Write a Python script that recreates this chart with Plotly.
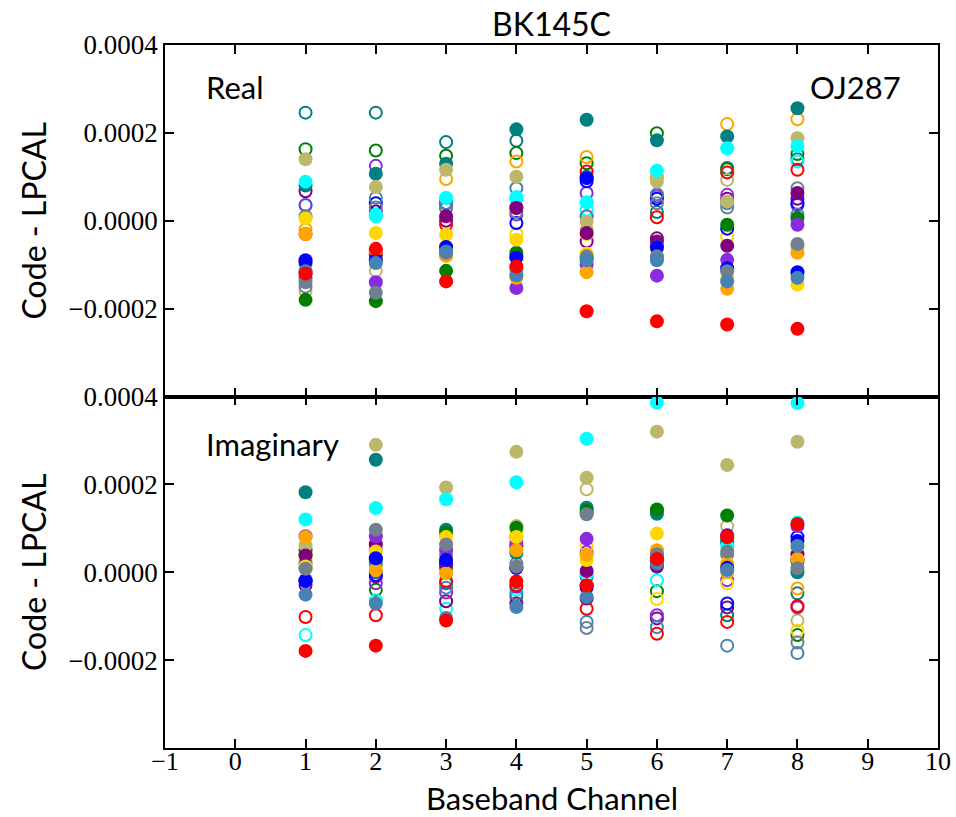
import plotly.graph_objects as go

# Baseband channels
channels = [1, 2, 3, 4, 5, 6, 7, 8]

# Station colours (one filled and one open series per colour)
colors = ["teal", "green", "darkkhaki", "cyan", "purple", "blueviolet",
          "gold", "orange", "blue", "slategray", "steelblue", "red"]

# Real part, filled markers (Code - LPCAL), per channel 1..8
real_filled = {
    "teal":       [0.000080, 0.000107, 0.000130, 0.000208, 0.000230, 0.000183, 0.000192, 0.000256],
    "green":      [-0.000180, -0.000183, -0.000114, -0.000073, -0.000085, -0.000062, -0.000009, 0.000006],
    "darkkhaki":  [0.000140, 0.000077, 0.000116, 0.000100, -0.000002, 0.000089, 0.000044, 0.000188],
    "cyan":       [0.000089, 0.000014, 0.000052, 0.000054, 0.000042, 0.000114, 0.000165, 0.000170],
    "purple":     [-0.000120, -0.000076, 0.000010, 0.000029, -0.000028, -0.000047, -0.000057, 0.000063],
    "blueviolet": [-0.000130, -0.000140, -0.000077, -0.000153, -0.000100, -0.000125, -0.000089, -0.000009],
    "gold":       [0.000005, -0.000028, -0.000032, -0.000043, -0.000075, -0.000060, -0.000130, -0.000145],
    "orange":     [-0.000030, -0.000068, -0.000080, -0.000130, -0.000117, -0.000085, -0.000155, -0.000073],
    "blue":       [-0.000090, -0.000090, -0.000060, -0.000084, 0.000097, -0.000060, -0.000108, -0.000117],
    "slategray":  [-0.000140, -0.000164, -0.000073, -0.000110, -0.000081, -0.000081, -0.000115, -0.000053],
    "steelblue":  [-0.000115, -0.000096, -0.000070, -0.000124, -0.000090, -0.000090, -0.000138, -0.000130],
    "red":        [-0.000120, -0.000064, -0.000138, -0.000104, -0.000206, -0.000229, -0.000236, -0.000246],
}

# Real part, open markers
real_open = {
    "teal":       [0.000246, 0.000246, 0.000179, 0.000182, 0.000100, 0.000020, 0.000120, 0.000140],
    "green":      [0.000163, 0.000160, 0.000148, 0.000154, 0.000131, 0.000199, 0.000117, 0.000152],
    "darkkhaki":  [-0.000160, -0.000114, -0.000070, 0.000050, -0.000020, 0.000060, 0.000093, -0.000060],
    "cyan":       [0.000035, 0.000010, 0.000052, 0.000050, 0.000025, 0.000100, 0.000110, 0.000135],
    "purple":     [0.000067, 0.000021, 0.000000, 0.000030, -0.000047, -0.000040, 0.000050, 0.000050],
    "blueviolet": [0.000036, 0.000125, 0.000029, 0.000014, 0.000063, 0.000055, 0.000059, 0.000036],
    "gold":       [-0.000100, -0.000070, -0.000058, -0.000030, -0.000030, -0.000050, -0.000036, -0.000125],
    "orange":     [-0.000020, -0.000080, 0.000095, 0.000135, 0.000145, 0.000100, 0.000220, 0.000231],
    "blue":       [-0.000095, 0.000040, 0.000040, -0.000005, 0.000090, 0.000050, -0.000018, 0.000040],
    "slategray":  [-0.000150, 0.000030, 0.000030, 0.000020, 0.000010, 0.000040, 0.000030, 0.000074],
    "steelblue":  [0.000010, 0.000052, 0.000040, 0.000074, 0.000010, 0.000060, 0.000040, 0.000014],
    "red":        [-0.000030, -0.000070, -0.000009, -0.000080, 0.000112, 0.000008, 0.000110, 0.000116],
}

# Imaginary part, filled markers
imag_filled = {
    "teal":       [0.000182, 0.000256, 0.000097, 0.000044, 0.000147, 0.000133, 0.000069, 0.000000],
    "green":      [0.000050, 0.000030, 0.000090, 0.000101, 0.000140, 0.000143, 0.000129, 0.000025],
    "darkkhaki":  [0.000061, 0.000290, 0.000193, 0.000274, 0.000215, 0.000320, 0.000244, 0.000297],
    "cyan":       [0.000120, 0.000146, 0.000166, 0.000205, 0.000304, 0.000386, 0.000060, 0.000385],
    "purple":     [0.000038, 0.000064, 0.000017, 0.000060, 0.000003, 0.000013, 0.000084, 0.000041],
    "blueviolet": [0.000082, 0.000082, 0.000051, 0.000067, 0.000076, 0.000025, 0.000080, 0.000105],
    "gold":       [0.000013, 0.000047, 0.000080, 0.000080, 0.000028, 0.000088, 0.000020, 0.000060],
    "orange":     [0.000080, 0.000005, -0.000002, 0.000050, 0.000040, 0.000050, 0.000017, 0.000030],
    "blue":       [-0.000018, 0.000032, 0.000028, 0.000010, -0.000035, 0.000030, 0.000010, 0.000071],
    "slategray":  [0.000008, 0.000097, 0.000063, 0.000013, 0.000132, 0.000041, 0.000047, 0.000009],
    "steelblue":  [-0.000051, -0.000071, -0.000104, -0.000079, -0.000056, 0.000020, 0.000005, 0.000060],
    "red":        [-0.000179, -0.000167, -0.000110, -0.000021, -0.000030, 0.000030, 0.000080, 0.000110],
}

# Imaginary part, open markers
imag_open = {
    "teal":       [-0.000020, 0.000000, -0.000025, -0.000056, -0.000010, 0.000140, -0.000098, -0.000048],
    "green":      [0.000040, -0.000040, 0.000010, 0.000080, 0.000135, -0.000043, 0.000070, -0.000143],
    "darkkhaki":  [0.000015, 0.000020, 0.000020, 0.000105, 0.000189, 0.000035, 0.000105, -0.000110],
    "cyan":       [-0.000143, -0.000064, -0.000083, -0.000040, -0.000005, -0.000018, 0.000070, 0.000113],
    "purple":     [-0.000029, -0.000010, -0.000066, -0.000071, -0.000060, -0.000105, -0.000080, 0.000030],
    "blueviolet": [-0.000020, -0.000025, -0.000046, -0.000033, 0.000046, -0.000098, -0.000018, -0.000080],
    "gold":       [0.000030, 0.000010, 0.000050, 0.000090, 0.000060, -0.000061, -0.000025, -0.000133],
    "orange":     [0.000040, 0.000030, 0.000030, 0.000060, 0.000040, 0.000030, 0.000000, -0.000037],
    "blue":       [-0.000020, -0.000006, 0.000020, 0.000010, -0.000030, 0.000020, -0.000071, 0.000080],
    "slategray":  [0.000010, 0.000050, 0.000040, 0.000020, -0.000127, 0.000040, 0.000040, -0.000160],
    "steelblue":  [0.000020, 0.000020, -0.000035, -0.000050, -0.000113, -0.000125, -0.000167, -0.000184],
    "red":        [-0.000102, -0.000098, -0.000020, -0.000030, -0.000083, -0.000140, -0.000113, -0.000077],
}

y_ticks = [-0.0004, -0.0002, 0.0, 0.0002, 0.0004]
y_ticktext = ["", "\u22120.0002", "0.0000", "0.0002", "0.0004"]
x_ticks = list(range(-1, 11))
x_ticktext = ["\u22121"] + [str(v) for v in range(0, 11)]

MSIZE = 14

fig = go.Figure()


def add_panel(filled, opened, xa, ya):
    for c in colors:
        fig.add_trace(go.Scatter(
            x=channels, y=opened[c], mode="markers", xaxis=xa, yaxis=ya,
            cliponaxis=False,
            marker=dict(symbol="circle-open", size=MSIZE - 2, color=c,
                        line=dict(width=2, color=c)),
            showlegend=False, hoverinfo="x+y"))
    for c in colors:
        fig.add_trace(go.Scatter(
            x=channels, y=filled[c], mode="markers", xaxis=xa, yaxis=ya,
            cliponaxis=False,
            marker=dict(symbol="circle", size=MSIZE, color=c, line=dict(width=0)),
            showlegend=False, hoverinfo="x+y"))


add_panel(real_filled, real_open, "x", "y")
add_panel(imag_filled, imag_open, "x2", "y2")

tick_font = dict(family="Liberation Serif", size=27, color="black")
xtick_font = dict(family="Liberation Serif", size=26, color="black")
label_font = dict(family="Lato", size=32, color="black")
axis_common = dict(
    showline=True, linecolor="black", linewidth=1.5, mirror="allticks",
    ticks="inside", ticklen=9, tickwidth=1.5, tickcolor="black",
    showgrid=False, zeroline=False, automargin=False,
)

fig.update_layout(
    width=956, height=817,
    margin=dict(l=165, r=18, t=45, b=69),
    paper_bgcolor="white", plot_bgcolor="white",
    font=dict(family="Lato", color="black"),
    xaxis=dict(domain=[0, 1], anchor="y", range=[-1, 10], tickvals=x_ticks,
               showticklabels=False, **axis_common),
    yaxis=dict(domain=[0.5, 1], anchor="x", range=[-0.0004, 0.0004],
               tickvals=y_ticks, ticktext=y_ticktext, tickfont=tick_font,
               title=dict(text="Code - LPCAL", font=label_font, standoff=12),
               **axis_common),
    xaxis2=dict(domain=[0, 1], anchor="y2", range=[-1, 10], tickvals=x_ticks,
                ticktext=x_ticktext, ticklabelstandoff=-11, tickfont=xtick_font,
                **axis_common),
    yaxis2=dict(domain=[0, 0.5], anchor="x2", range=[-0.0004, 0.0004],
                tickvals=y_ticks, ticktext=y_ticktext, tickfont=tick_font,
                title=dict(text="Code - LPCAL", font=label_font, standoff=12),
                **axis_common),
    annotations=[
        dict(text="BK145C", x=0.5, y=1, xref="paper", yref="paper",
             yanchor="bottom", yshift=0, showarrow=False,
             font=dict(family="Lato", size=32)),
        dict(text="Baseband Channel", x=0.5, y=0, xref="paper", yref="paper",
             yanchor="top", yshift=-29, showarrow=False,
             font=dict(family="Lato", size=31, color="black")),
        dict(text="Real", x=0.05, y=0.94, xref="paper", yref="paper",
             xanchor="left", yanchor="middle", showarrow=False,
             font=dict(family="Lato", size=31)),
        dict(text="OJ287", x=0.955, y=0.94, xref="paper", yref="paper",
             xanchor="right", yanchor="middle", showarrow=False,
             font=dict(family="Lato", size=31)),
        dict(text="Imaginary", x=0.05, y=0.433, xref="paper", yref="paper",
             xanchor="left", yanchor="middle", showarrow=False,
             font=dict(family="Lato", size=31)),
    ],
)

fig.write_html("out.html")
